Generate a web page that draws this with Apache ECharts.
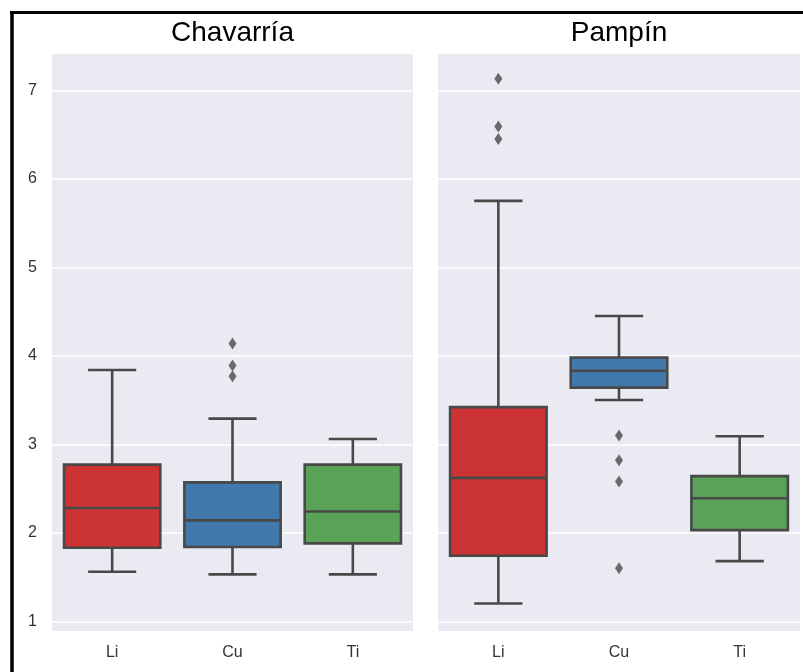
<!DOCTYPE html>
<html>
<head>
<meta charset="utf-8">
<script src="https://cdn.jsdelivr.net/npm/echarts@6/dist/echarts.min.js"></script>
<style>
  html, body { margin: 0; padding: 0; background: #ffffff; }
  #chart { width: 803px; height: 672px; }
</style>
</head>
<body>
<div id="chart"></div>
<script>
// Element categories shared by both panels
const categories = ['Li', 'Cu', 'Ti'];

// Box statistics per element: [lower whisker, Q1, median, Q3, upper whisker]
const chavarriaLi = [1.56, 1.83, 2.28, 2.77, 3.84];
const chavarriaCu = [1.53, 1.84, 2.14, 2.57, 3.29];
const chavarriaTi = [1.53, 1.88, 2.24, 2.77, 3.06];

const pampinLi = [1.20, 1.74, 2.62, 3.42, 5.75];
const pampinCu = [3.50, 3.64, 3.83, 3.98, 4.45];
const pampinTi = [1.68, 2.03, 2.39, 2.64, 3.09];

// Points beyond the whiskers
const chavarriaOutliers = [['Cu', 4.14], ['Cu', 3.89], ['Cu', 3.77]];
const pampinOutliers = [
  ['Li', 7.13], ['Li', 6.59], ['Li', 6.45],
  ['Cu', 3.10], ['Cu', 2.82], ['Cu', 2.58], ['Cu', 1.60]
];

const panelTitles = ['Chavarría', 'Pampín'];
const yTickLabels = ['1', '2', '3', '4', '5', '6', '7'];

const boxColors = ['#cb3335', '#4279ad', '#59a257'];
const lineGray = '#484848';
const font = '"Liberation Sans", Arial, sans-serif';

function toRows(statsList) {
  return statsList.map((s, i) => [i].concat(s));
}

// Draws one box: whiskers with half-width caps, filled IQR box, median line
function renderBox(params, api) {
  const ci = api.value(0);
  const low = api.coord([ci, api.value(1)]);
  const q1 = api.coord([ci, api.value(2)]);
  const med = api.coord([ci, api.value(3)]);
  const q3 = api.coord([ci, api.value(4)]);
  const high = api.coord([ci, api.value(5)]);
  const cx = med[0];
  const band = api.size([1, 0])[0];
  const bw = band * 0.8;
  const cw = bw / 2;
  const lineStyle = { stroke: lineGray, lineWidth: 2.6, fill: null };
  return {
    type: 'group',
    children: [
      { type: 'line', shape: { x1: cx, y1: q3[1], x2: cx, y2: high[1] }, style: lineStyle },
      { type: 'line', shape: { x1: cx, y1: q1[1], x2: cx, y2: low[1] }, style: lineStyle },
      { type: 'line', shape: { x1: cx - cw / 2, y1: high[1], x2: cx + cw / 2, y2: high[1] }, style: lineStyle },
      { type: 'line', shape: { x1: cx - cw / 2, y1: low[1], x2: cx + cw / 2, y2: low[1] }, style: lineStyle },
      {
        type: 'rect',
        shape: { x: cx - bw / 2, y: q3[1], width: bw, height: q1[1] - q3[1] },
        style: { fill: boxColors[ci], stroke: lineGray, lineWidth: 2.6 }
      },
      { type: 'line', shape: { x1: cx - bw / 2, y1: med[1], x2: cx + bw / 2, y2: med[1] }, style: lineStyle }
    ]
  };
}

const chart = echarts.init(document.getElementById('chart'), null, { renderer: 'canvas' });

const grids = [
  { left: 52, right: 390, top: 54, bottom: 41 },
  { left: 438, right: 3, top: 54, bottom: 41 }
];

function yAxisFor(gi, showLabels) {
  return {
    type: 'value',
    gridIndex: gi,
    min: 0.89,
    max: 7.41,
    splitNumber: 7,
    axisLine: { show: false },
    axisTick: { show: false },
    splitLine: { show: true, showMinLine: false, showMaxLine: false, lineStyle: { color: '#ffffff', width: 1.5 } },
    axisLabel: {
      show: showLabels,
      showMinLabel: false,
      showMaxLabel: false,
      margin: 15,
      color: '#333333',
      fontSize: 16,
      fontFamily: font,
      formatter: v => (yTickLabels.indexOf(String(v)) >= 0 ? String(v) : '')
    }
  };
}

function xAxisFor(gi) {
  return {
    type: 'category',
    gridIndex: gi,
    data: categories,
    axisLine: { show: false },
    axisTick: { show: false },
    splitLine: { show: false },
    axisLabel: { margin: 14, color: '#333333', fontSize: 16, fontFamily: font }
  };
}

const option = {
  backgroundColor: '#ffffff',
  animation: false,
  grid: grids.map(g => Object.assign({
    show: true, backgroundColor: '#eaeaf2', borderWidth: 0, containLabel: false
  }, g)),
  xAxis: [xAxisFor(0), xAxisFor(1)],
  yAxis: [yAxisFor(0, true), yAxisFor(1, false)],
  series: [
    {
      type: 'custom', xAxisIndex: 0, yAxisIndex: 0,
      renderItem: renderBox,
      encode: { x: 0, y: [1, 2, 3, 4, 5] },
      data: toRows([chavarriaLi, chavarriaCu, chavarriaTi]),
      z: 2
    },
    {
      type: 'custom', xAxisIndex: 1, yAxisIndex: 1,
      renderItem: renderBox,
      encode: { x: 0, y: [1, 2, 3, 4, 5] },
      data: toRows([pampinLi, pampinCu, pampinTi]),
      z: 2
    },
    {
      type: 'scatter', xAxisIndex: 0, yAxisIndex: 0,
      symbol: 'diamond', symbolSize: [8, 12],
      itemStyle: { color: lineGray },
      data: chavarriaOutliers, z: 3
    },
    {
      type: 'scatter', xAxisIndex: 1, yAxisIndex: 1,
      symbol: 'diamond', symbolSize: [8, 12],
      itemStyle: { color: lineGray },
      data: pampinOutliers, z: 3
    }
  ],
  graphic: [
    {
      type: 'text', x: 232.5, y: 33,
      style: { text: panelTitles[0], fill: '#000000', font: '28px ' + font, textAlign: 'center', textVerticalAlign: 'middle' }
    },
    {
      type: 'text', x: 619, y: 33,
      style: { text: panelTitles[1], fill: '#000000', font: '28px ' + font, textAlign: 'center', textVerticalAlign: 'middle' }
    },
    {
      type: 'line', shape: { x1: 10, y1: 12.5, x2: 803, y2: 12.5 },
      style: { stroke: '#000000', lineWidth: 3 }
    },
    {
      type: 'line', shape: { x1: 12, y1: 11, x2: 12, y2: 672 },
      style: { stroke: '#000000', lineWidth: 3.5 }
    }
  ]
};

chart.setOption(option);
</script>
</body>
</html>
